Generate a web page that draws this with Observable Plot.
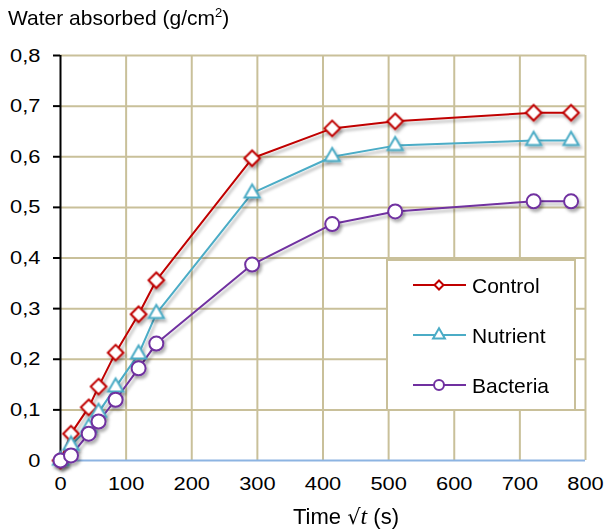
<!DOCTYPE html>
<html>
<head>
<meta charset="utf-8">
<script src="https://cdn.jsdelivr.net/npm/d3@7"></script>
<script src="https://cdn.jsdelivr.net/npm/@observablehq/plot@0.6"></script>
<style>
  html, body { margin: 0; padding: 0; background: #fff; }
  #chart { width: 604px; height: 530px; }
</style>
</head>
<body>
<div id="chart"></div>
<script>
const series = ["Control", "Nutrient", "Bacteria"];
const colors = ["#c00000", "#4bacc6", "#7030a0"];
const times = [0, 16, 43, 58, 84, 119, 146, 292, 414, 510, 721, 778];
const control = [0, 0.053, 0.105, 0.146, 0.213, 0.289, 0.356, 0.597, 0.656, 0.670, 0.687, 0.687];
const nutrient = [0, 0.030, 0.065, 0.095, 0.145, 0.210, 0.290, 0.528, 0.600, 0.622, 0.632, 0.632];
const bacteria = [0, 0.010, 0.053, 0.077, 0.120, 0.182, 0.231, 0.387, 0.467, 0.492, 0.512, 0.512];
const xTicks = [0, 100, 200, 300, 400, 500, 600, 700, 800];
const yTicks = [0, 0.1, 0.2, 0.3, 0.4, 0.5, 0.6, 0.7, 0.8];
const titleText = "Water absorbed (g/cm";

const values = [control, nutrient, bacteria];
const data = series.flatMap((s, i) => times.map((t, j) => ({series: s, time: t, value: values[i][j]})));
const bySeries = s => data.filter(d => d.series === s);

const grid = "#c9c09a";
const font = "'Liberation Sans', Arial, sans-serif";
const yFmt = d => d === 0 ? "0" : d.toFixed(1).replace(".", ",");

const chart = Plot.plot({
  width: 604,
  height: 530,
  marginLeft: 60,
  marginRight: 19,
  marginTop: 55,
  marginBottom: 70,
  style: {fontFamily: font, fontSize: "19px", color: "#000", background: "#fff"},
  x: {domain: [0, 800]},
  y: {domain: [0, 0.8]},
  color: {domain: series, range: colors},
  marks: [
    Plot.gridX(xTicks.filter(d => d > 0), {stroke: grid, strokeOpacity: 1, strokeWidth: 2}),
    Plot.gridY(yTicks.filter(d => d > 0), {stroke: grid, strokeOpacity: 1, strokeWidth: 2}),
    Plot.axisX({ticks: xTicks, tickSize: 0, tickPadding: 16, tickFormat: d => String(d), label: null, fontSize: 19}),
    Plot.axisY({ticks: yTicks, tickSize: 7, tickPadding: 13, tickFormat: yFmt, label: null, strokeWidth: 2, fontSize: 19}),
    Plot.ruleX([0], {stroke: "#000", strokeWidth: 2}),
    Plot.ruleY([0], {stroke: "#8db4e2", strokeWidth: 2}),
    Plot.line(data, {x: "time", y: "value", z: "series", stroke: "series", strokeWidth: 2, className: "shadowed"}),
    Plot.dot(bySeries("Control"), {x: "time", y: "value", symbol: "diamond2", r: 7, fill: "#fff", stroke: colors[0], strokeWidth: 2, className: "shadowed"}),
    Plot.dot(bySeries("Nutrient"), {x: "time", y: "value", symbol: "triangle2", r: 7.2, fill: "#fff", stroke: colors[1], strokeWidth: 2, className: "shadowed"}),
    Plot.dot(bySeries("Bacteria"), {x: "time", y: "value", symbol: "circle", r: 7, fill: "#fff", stroke: colors[2], strokeWidth: 2, className: "shadowed"})
  ]
});

const svg = d3.select(chart);
const defs = svg.insert("defs", ":first-child");
const f = defs.append("filter").attr("id", "shadow").attr("x", "-50%").attr("y", "-50%").attr("width", "200%").attr("height", "200%");
f.append("feDropShadow").attr("dx", 2).attr("dy", 3).attr("stdDeviation", 1.5).attr("flood-color", "#000").attr("flood-opacity", 0.3);
svg.selectAll("g.shadowed").attr("filter", "url(#shadow)");

// widen tick labels slightly (reference glyphs are horizontally stretched)
svg.selectAll('g[aria-label="x-axis tick label"] text, g[aria-label="y-axis tick label"] text').each(function() {
  const xa = this.getAttribute("x");
  let tx = 0;
  if (xa != null && !isNaN(+xa)) { tx = +xa; this.removeAttribute("x"); }
  const tr = this.getAttribute("transform") || "";
  this.setAttribute("transform", `${tr} translate(${tx},0) scale(1.15,1)`);
});

// title
const t = svg.append("text").attr("x", 8).attr("y", 25).attr("text-anchor", "start")
  .attr("font-family", font).attr("font-size", 21).attr("fill", "#000").text(titleText);
t.append("tspan").attr("font-size", 13).attr("dy", -8).text("2");
t.append("tspan").attr("dy", 8).text(")");

// x label
const xl = svg.append("text").attr("x", 293).attr("y", 524).attr("text-anchor", "start")
  .attr("font-family", font).attr("font-size", 22).attr("fill", "#000");
xl.append("tspan").text("Time ");
xl.append("tspan").attr("font-family", "'DejaVu Serif', serif").attr("font-size", 21).text("\u221A");
xl.append("tspan").attr("font-family", "'Liberation Serif', serif").attr("font-style", "italic").attr("font-size", 24).text("t");
xl.append("tspan").text(" (s)");

// legend
const lg = svg.append("g");
lg.append("rect").attr("x", 387).attr("y", 260).attr("width", 188).attr("height", 150)
  .attr("fill", "#fff").attr("stroke", grid).attr("stroke-width", 2);
const symbols = [d3.symbolDiamond2, d3.symbolTriangle2, d3.symbolCircle];
const sizes = [52, 100, 78];
series.forEach((s, i) => {
  const y = 285 + i * 50;
  lg.append("line").attr("x1", 413).attr("x2", 466).attr("y1", y).attr("y2", y)
    .attr("stroke", colors[i]).attr("stroke-width", 2);
  lg.append("path").attr("d", d3.symbol(symbols[i], sizes[i])()).attr("transform", `translate(439,${y})`)
    .attr("fill", "#fff").attr("stroke", colors[i]).attr("stroke-width", 2);
  lg.append("text").attr("x", 472).attr("y", y).attr("dy", "0.36em").attr("text-anchor", "start")
    .attr("font-family", font).attr("font-size", 21).attr("fill", "#000").text(s);
});

document.getElementById("chart").appendChild(chart);
</script>
</body>
</html>
